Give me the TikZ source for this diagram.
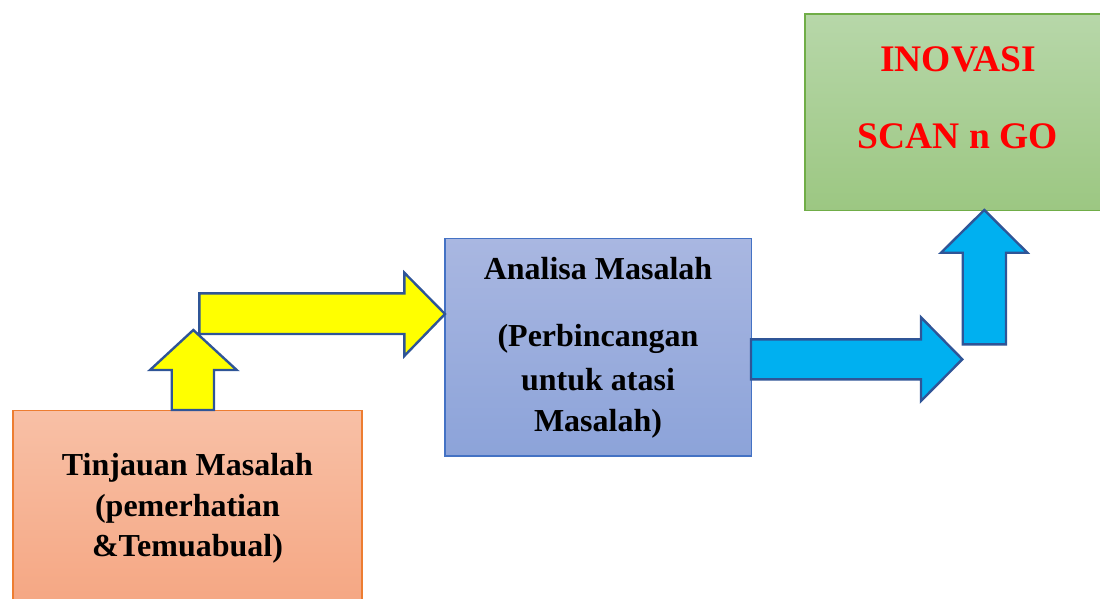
\documentclass[tikz,border=0pt]{standalone}
\usepackage{fontspec}
\setmainfont{Liberation Serif}
\begin{document}
\begin{tikzpicture}[x=1pt,y=-1pt,
  box/.style={draw, line width=1.4pt, inner sep=0pt},
  blocka/.style={draw=arrowedge, line width=2.4pt, line join=miter},
  lbl/.style={anchor=base, inner sep=0pt, font=\fontsize{32}{40}\selectfont\bfseries},
  redlbl/.style={anchor=base, inner sep=0pt, text=redtext, font=\fontsize{37.5}{44}\selectfont\bfseries}]
\definecolor{arrowedge}{HTML}{2F5597}
\definecolor{orangeedge}{HTML}{ED7D31}
\definecolor{blueedge}{HTML}{4472C4}
\definecolor{greenedge}{HTML}{70AD47}
\definecolor{cyanfill}{HTML}{00B0F0}
\definecolor{yellowfill}{HTML}{FFFF00}
\definecolor{redtext}{HTML}{FF0000}
\useasboundingbox (0,0) rectangle (1100,598);

% boxes
\path[box, draw=orangeedge, top color={rgb,255:red,248;green,192;blue,166}, bottom color={rgb,255:red,245;green,166;blue,130}]
  (13,410.5) rectangle (362,610);
\path[box, draw=blueedge, top color={rgb,255:red,169;green,183;blue,225}, bottom color={rgb,255:red,140;green,163;blue,217}]
  (445,238.3) rectangle (751.7,456);
\path[box, draw=greenedge, top color={rgb,255:red,183;green,215;blue,169}, bottom color={rgb,255:red,156;green,199;blue,130}]
  (805,14) rectangle (1115,210.7);

% yellow block arrows
\path[blocka, fill=yellowfill]
  (171.7,410) -- (171.7,370) -- (150,370) -- (193.3,330) -- (236.7,370) -- (214,370) -- (214,410) -- cycle;
\path[blocka, fill=yellowfill]
  (199.3,293.3) -- (404.3,293.3) -- (404.3,272.7) -- (445,314) -- (404.3,356) -- (404.3,334) -- (199.3,334) -- cycle;

% cyan block arrows
\path[blocka, fill=cyanfill]
  (751,339.3) -- (921,339.3) -- (921,317.3) -- (962.3,359.3) -- (921,401) -- (921,379.3) -- (751,379.3) -- cycle;
\path[blocka, fill=cyanfill]
  (962.7,344.3) -- (962.7,252.7) -- (941,252.7) -- (984.3,210) -- (1027.3,252.7) -- (1006,252.7) -- (1006,344.3) -- cycle;

% texts
\node[lbl] (t1) at (187.5,475) {Tinjauan Masalah};
\node[lbl] (t2) at (187.5,516.7) {(pemerhatian};
\node[lbl] (t3) at (187.5,556.7) {\&Temuabual)};

\node[lbl] (a1) at (598,279.3) {Analisa Masalah};
\node[lbl] (a2) at (598,346.7) {(Perbincangan};
\node[lbl] (a3) at (598,390) {untuk atasi};
\node[lbl] (a4) at (598,431.7) {Masalah)};

\node[redlbl] (g1) at (958,71.7) {INOVASI};
\node[redlbl] (g2) at (958,148) {SCAN n GO};
\end{tikzpicture}
\end{document}
